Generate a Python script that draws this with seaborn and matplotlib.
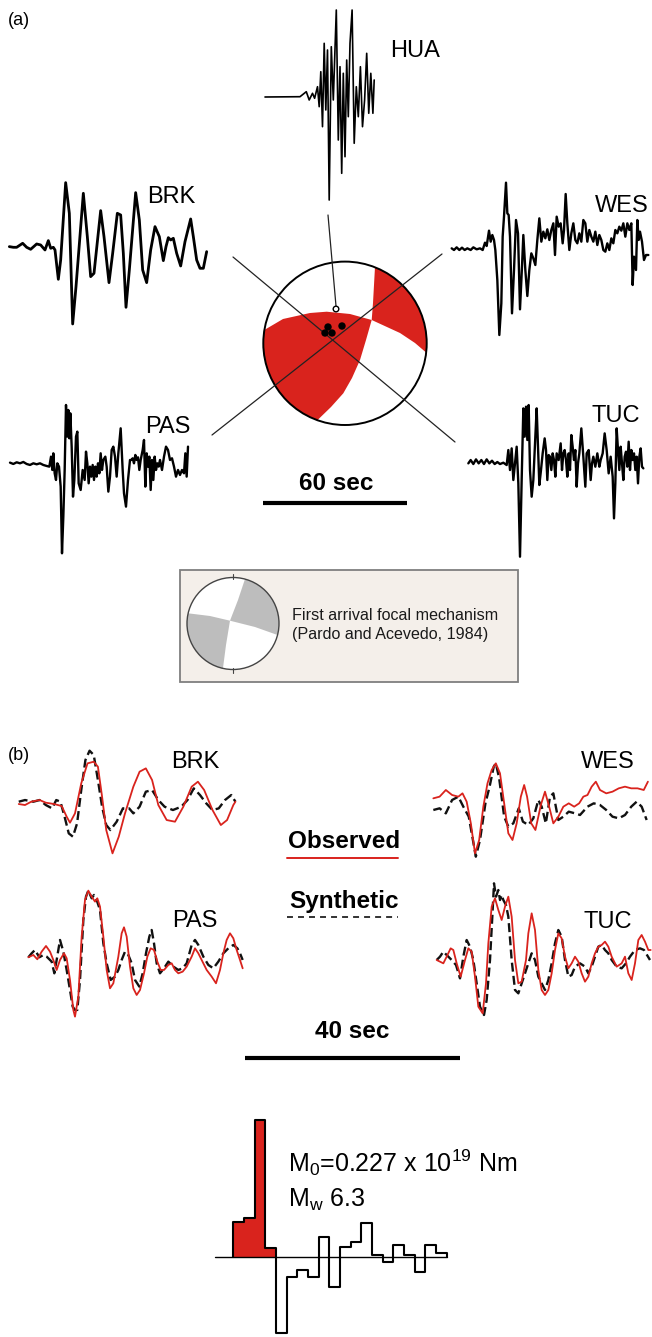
import numpy as np
import matplotlib
matplotlib.use('Agg')
import matplotlib.pyplot as plt
from matplotlib.patches import Polygon, Circle, Rectangle
import seaborn as sns

sns.set_theme(style='white')
plt.rcParams['font.family'] = ['Liberation Sans', 'DejaVu Sans']
plt.rcParams['text.color'] = 'black'
plt.rcParams['mathtext.fontset'] = 'custom'
plt.rcParams['mathtext.rm'] = 'Liberation Sans'
plt.rcParams['mathtext.it'] = 'Liberation Sans'
plt.rcParams['mathtext.default'] = 'regular'

RED = '#d9231d'

# ---------------- data: (a) observed long-period records ----------------
hua_t = [0, 35, 41.3, 44.2, 47.5, 49.6, 52.5, 54.2, 55.8, 57.5, 59.2, 60.8, 62.5, 64.2, 66.3, 68.3,
         71.3, 73.3, 75, 76.7, 78.3, 80, 81.7, 83.3, 85, 87.1, 89.2, 91.3, 93.3, 95.4, 97.5, 99.6,
         101.7, 103.75, 105.8, 107.9, 109.2]
hua_a = [0, 0.3, 5.3, -3, 3.7, -1.3, 10.3, -9.7, 25.3, -29.7, 53.7, -13, 47, -103, 50.3, -3,
         87, -43, 30.3, -76.3, 23.7, -59.7, 37, -19.7, 53.7, 87, -46.3, 10.3, -19.7, 30.3, -29.7, -3,
         43.7, -16.3, 23.7, -16.3, 17]

brk_t = [28, 40, 50, 68, 80, 92, 110, 122, 135, 145, 152, 160, 165, 175, 182, 197, 208, 218, 228, 250,
         262, 272, 282, 302, 312, 327, 338, 352, 362, 370, 378, 388, 407, 418, 428, 440, 452, 465, 478, 490,
         498, 505, 512, 520, 530, 542, 555, 572, 580, 590, 600, 610, 620]
brk_a = [2, 0, 0, 12, 0, -6, 10, 7, -8, 20, -3, 0, -8, -96, -38, 194, 102, -230, -118, 162,
         32, -88, -78, 110, 32, -106, -18, 102, 97, -18, -180, -68, 164, 82, -68, -106, -8, 62, 32, -40,
         2, 29, 22, 27, -18, -56, 17, 85, 32, -38, -63, -63, -13]

wes_t = [35, 42, 50, 58, 66, 74, 82, 92, 100, 110, 120, 128, 135, 140, 147, 152, 157, 162, 166, 172,
         178, 184, 188, 192, 198, 202, 206, 210, 216, 222, 228, 234, 240, 246, 250, 256, 262, 268, 274, 280,
         286, 292, 298, 304, 310, 316, 322, 328, 334, 340, 345, 350, 356, 362, 368, 372, 377, 382, 388, 394,
         400, 406, 412, 418, 424, 430, 436, 442, 448, 454, 460, 466, 472, 478, 484, 490, 496, 502, 508, 514,
         520, 526, 532, 538, 544, 550, 556, 562, 568, 574, 578, 582, 588, 592, 596, 600, 606, 612, 618, 625]
wes_a = [2, -3, 5, -3, 4, -3, 2, -3, 5, -1, 2, -3, 19, 9, 55, 22, 42, 27, -3, -93,
         -258, -163, 37, 97, 199, 107, 102, 37, -193, -63, 87, 47, -181, -53, 42, -63, -141, -63, -13, -28,
         -48, 27, 92, 22, 52, 32, 59, 27, 57, 77, -18, 97, 67, 77, 17, 57, 165, 77, -3, 47,
         77, 27, 17, 47, 22, 87, 77, 22, 57, 37, 22, 52, 12, 42, 27, -3, -8, 17, -3, 32,
         17, 57, 47, 67, 55, 77, 37, 77, 57, 77, -108, -23, -63, 87, 27, 52, 22, -33, -18, -18]

pas_t = [30, 40, 50, 60, 70, 80, 90, 100, 110, 120, 130, 140, 148, 153, 157, 160, 164, 168, 172, 177,
         182, 186, 190, 194, 198, 202, 205, 208, 211, 215, 219, 223, 228, 232, 236, 242, 248, 254, 258, 262,
         266, 270, 274, 278, 282, 286, 290, 294, 298, 302, 306, 310, 316, 320, 325, 330, 335, 340, 345, 350,
         355, 362, 368, 372, 378, 384, 390, 394, 398, 402, 406, 410, 414, 418, 422, 428, 432, 436, 440, 444,
         448, 452, 456, 460, 464, 468, 472, 476, 480, 486, 492, 498, 504, 510, 516, 522, 528, 534, 540, 546,
         552, 556, 560, 564]
pas_a = [2, -2, 3, 0, 4, -2, -5, 0, -3, 0, -5, -8, -10, 20, -20, 30, -30, -50, 0, -10,
         -70, -270, -160, -20, 175, 80, 160, 75, 150, 50, -100, -50, 80, 95, -60, -80, -20, -50, 35, 0,
         -60, -10, -40, -5, -50, -10, -40, 0, -30, 30, -20, 10, 20, -10, -85, -40, 40, 50, 20, -40,
         30, 105, -20, -90, -130, -50, 10, 10, 15, 0, 25, 10, 18, -20, 10, 40, 70, -70, 30, -10,
         20, -80, 10, -50, 20, -20, 0, -10, 10, -20, 20, 50, 40, 10, 15, -10, -40, -20, -35, -20,
         -30, 30, -40, 50]

tuc_t = [85, 92, 100, 108, 116, 124, 132, 140, 148, 156, 164, 172, 180, 190, 200, 205, 210, 215, 220, 225,
         230, 235, 240, 245, 250, 254, 258, 262, 266, 270, 275, 280, 286, 290, 294, 298, 303, 308, 314, 318,
         322, 326, 330, 334, 338, 342, 346, 350, 356, 362, 366, 370, 374, 378, 382, 386, 390, 394, 398, 402,
         406, 410, 414, 418, 424, 430, 436, 440, 446, 452, 456, 460, 466, 472, 478, 482, 488, 494, 500, 506,
         512, 518, 522, 526, 530, 534, 538, 542, 546, 550, 554, 558, 562, 566, 570, 574, 578, 582, 586, 590,
         594, 598, 602, 606, 610]
tuc_a = [-2, 8, -4, 10, -2, 8, -4, 10, -2, 6, -4, 2, -4, 0, -7, 38, -22, 43, -52, -2,
         48, -62, -282, -52, 163, 78, 168, 68, 173, -22, -102, -52, 78, 163, 48, -67, -22, 28, 73, 38,
         -52, 23, 18, -22, 28, 8, -42, 28, 8, 58, -22, 28, 38, 8, -42, 28, -22, 83, 48, 8,
         38, -72, -2, 28, 103, 18, -72, 28, 38, -52, -2, 18, -12, 28, -12, 8, 28, 88, 38, -32,
         18, -42, -167, -62, 103, 38, -22, 48, -2, -52, 18, 33, -12, 63, -22, 38, 8, 28, -22, 18,
         -62, 18, 43, -12, -17]

# ---------------- data: (b) observed (red) vs synthetic (dashed) ----------------
brk_obs_t = [45, 60, 75, 95, 110, 130, 148, 160, 168, 180, 195, 210, 225, 235, 245, 255, 270, 285, 300, 320,
             335, 350, 365, 380, 400, 420, 440, 460, 475, 490, 510, 530, 545, 560, 565]
brk_obs_a = [-7, -10, 0, 5, -3, -7, -13, -45, -63, -35, 55, 115, 120, 105, 15, -85, -155, -105, -35, 45,
             90, 100, 65, -10, -55, -60, -15, 45, 60, 35, -25, -70, -55, -10, 0]
brk_syn_t = [45, 60, 80, 95, 110, 125, 135, 145, 155, 165, 175, 185, 195, 205, 215, 225, 235, 245, 255, 265,
             280, 295, 310, 320, 335, 350, 365, 380, 395, 415, 435, 450, 465, 480, 495, 510, 525, 540, 555, 565]
brk_syn_a = [0, 5, 0, 5, -10, -20, 5, 0, -45, -95, -105, -65, 35, 125, 153, 140, 65, -15, -70, -85,
             -60, -20, -20, -35, -15, 30, 35, 5, -15, -25, -15, 5, 40, 20, -5, -25, -20, 5, 20, 0]

wes_obs_t = [1040, 1055, 1070, 1085, 1100, 1110, 1120, 1130, 1140, 1150, 1160, 1170, 1180, 1190, 1200, 1210,
             1220, 1230, 1240, 1250, 1258, 1265, 1275, 1285, 1292, 1298, 1308, 1318, 1328, 1340, 1352, 1365,
             1378, 1390, 1400, 1410, 1420, 1430, 1440, 1455, 1470, 1485, 1500, 1515, 1530, 1545, 1555]
wes_obs_a = [35, 40, 60, 45, 40, 50, 25, -40, -130, -90, 10, 80, 120, 140, 110, 20,
             -70, -90, -40, 40, 75, 40, -40, -60, -20, 15, 55, 10, -40, -20, 10, 20,
             10, 20, 40, 45, 70, 85, 60, 50, 55, 65, 70, 65, 65, 60, 85]
wes_syn_t = [1040, 1055, 1070, 1085, 1100, 1112, 1125, 1135, 1142, 1152, 1165, 1175, 1185, 1190, 1198, 1210,
             1220, 1232, 1245, 1255, 1268, 1280, 1292, 1300, 1310, 1320, 1328, 1340, 1352, 1365, 1380, 1392,
             1410, 1425, 1440, 1455, 1470, 1485, 1500, 1515, 1528, 1540, 1552]
wes_syn_a = [0, 5, -10, 30, 40, 10, -20, -90, -140, -90, 20, 70, 130, 140, 95, -20,
             -50, -40, 5, -35, -45, -25, 30, 10, -40, 40, 50, -30, -20, -5, -10, -15,
             10, 20, 15, 0, -20, -25, -15, 10, 25, 10, -30]

pas_obs_t = [85, 100, 112, 125, 138, 150, 160, 170, 180, 192, 200, 210, 220, 225, 235, 245, 255, 265, 275, 285,
             292, 300, 310, 320, 330, 340, 355, 365, 372, 380, 390, 400, 410, 420, 432, 442, 452, 462, 472, 482,
             492, 505, 515, 525, 535, 548, 560, 575, 585, 595, 605, 620, 635, 648, 660, 670, 680, 690, 700, 710,
             720, 728]
pas_obs_a = [0, 7, -6, 17, 34, 17, -8, -38, -8, 12, -3, -68, -158, -178, -118, 62, 172, 200, 182, 167,
             177, 152, 62, -38, -93, -78, 2, 72, 90, 62, -28, -93, -113, -98, -48, 2, 27, 22, -13, -38,
             -38, -23, -18, -38, -48, -43, -28, 2, 27, 12, -8, -38, -58, -78, -38, 12, 52, 72, 57, 22,
             -8, -33]
pas_syn_t = [85, 95, 105, 118, 130, 140, 155, 163, 170, 180, 190, 200, 210, 218, 225, 232, 240, 250, 258, 265,
             275, 282, 290, 300, 310, 320, 332, 345, 355, 365, 375, 385, 395, 405, 418, 428, 438, 448, 455, 462,
             470, 480, 492, 505, 520, 535, 548, 560, 575, 585, 595, 610, 625, 640, 655, 670, 685, 700, 712, 720,
             728]
pas_syn_a = [0, 12, 22, 0, 7, 2, -13, -48, -8, 52, 17, -38, -98, -148, -158, -158, -68, 112, 182, 200,
             177, 187, 172, 142, 42, -18, -68, -58, -38, -8, 17, 7, -18, -68, -88, -48, 12, 62, 82, 42,
             -18, -48, -33, -13, -28, -38, -33, -18, 37, 52, 37, 2, -23, -33, -13, 12, 27, 37, 27, 12,
             -8]

tuc_obs_t = [50, 60, 70, 80, 92, 100, 110, 122, 135, 145, 155, 165, 175, 188, 198, 205, 215, 225, 235, 245,
             255, 265, 275, 285, 295, 305, 318, 325, 335, 345, 355, 365, 375, 385, 395, 405, 415, 425, 435, 445,
             455, 465, 475, 485, 495, 505, 515, 525, 535, 545, 555, 565, 575, 590, 605, 615, 625, 635, 645, 655,
             665, 675, 685, 692]
tuc_obs_a = [0, -5, -10, 10, 35, 30, -10, -50, 0, 35, 25, -50, -140, -160, -70, 50, 160, 185, 150, 120,
             160, 190, 130, 0, -70, -65, 0, 80, 140, 90, -30, -90, -105, -90, -40, 30, 80, 65, 10, -25,
             -10, 10, -5, -40, -65, -50, -10, 20, 40, 45, 55, 40, 10, -20, -10, 10, -40, -60, -10, 60,
             75, 55, 30, 30]
tuc_syn_t = [50, 60, 70, 85, 95, 108, 120, 130, 140, 150, 160, 170, 180, 192, 200, 210, 218, 222, 228, 235,
             240, 245, 250, 258, 265, 275, 285, 295, 305, 315, 325, 335, 345, 355, 365, 375, 385, 395, 405, 415,
             425, 435, 445, 455, 465, 480, 495, 505, 515, 525, 535, 545, 555, 565, 575, 590, 605, 618, 630, 645,
             660, 672, 690]
tuc_syn_a = [0, 10, 25, 10, 0, -15, -55, 10, 60, 40, 0, -70, -140, -165, -120, 0, 150, 230, 190, 210,
             180, 195, 180, 165, 130, 0, -90, -100, -70, -40, -10, 20, 0, -50, -70, -90, -60, -10, 50, 90,
             70, 0, -50, -45, -20, -10, -20, -40, -20, 10, 40, 45, 30, 20, 0, -20, -25, -10, 10, 30,
             35, 30, 0]

# source time function (moment-rate steps)
stf_vals = [105, 115, 410, 25, -230, -60, -40, -60, 60, -90, 30, 45, 100, 5, -15, 35, 5, -45, 35, 10]

# ---------------- layout (origin x, origin y, x-scale, y-scale) ----------------
POS = {
    'HUA': (265, 97, 1, 1),
    'BRK': (0, 247.3, 1 / 3, 1 / 3),
    'WES': (440, 249, 1 / 3, 1 / 3),
    'PAS': (0, 463.3, 1 / 3, 1 / 3),
    'TUC': (440, 462.7, 1 / 3, 1 / 3),
    'BRKb': (0, 801.7, 1 / 2.4, 1 / 3),
    'WESb': (0, 810, 1 / 2.4, 1 / 3),
    'PASb': (0, 957.3, 1 / 3, 1 / 3),
    'TUCb': (420, 960, 1 / 3, 1 / 3),
}

W, H = 652, 1337
fig = plt.figure(figsize=(W / 100, H / 100), dpi=100)
ax = fig.add_axes([0, 0, 1, 1])


def trace(t, a, key, color='black', lw=1.6, dash=None, z=3):
    x0, y0, sx, sy = POS[key]
    X = x0 + np.asarray(t, float) * sx
    Y = y0 - np.asarray(a, float) * sy
    n0 = len(ax.lines)
    sns.lineplot(x=X, y=Y, sort=False, estimator=None, color=color, linewidth=lw, ax=ax, zorder=z)
    ln = ax.lines[n0]
    ln.set_solid_joinstyle('round')
    if dash is not None:
        ln.set_linestyle((0, dash))
        ln.set_dash_capstyle('butt')


# (a) records
trace(hua_t, hua_a, 'HUA', lw=1.2)
trace(brk_t, brk_a, 'BRK', lw=2.0)
trace(wes_t, wes_a, 'WES', lw=1.7)
trace(pas_t, pas_a, 'PAS', lw=1.7)
trace(tuc_t, tuc_a, 'TUC', lw=1.7)

# (b) comparisons
for obs_t, obs_a, syn_t, syn_a, key in [
        (brk_obs_t, brk_obs_a, brk_syn_t, brk_syn_a, 'BRKb'),
        (wes_obs_t, wes_obs_a, wes_syn_t, wes_syn_a, 'WESb'),
        (pas_obs_t, pas_obs_a, pas_syn_t, pas_syn_a, 'PASb'),
        (tuc_obs_t, tuc_obs_a, tuc_syn_t, tuc_syn_a, 'TUCb')]:
    trace(syn_t, syn_a, key, color='#111111', lw=1.7, dash=(3.8, 1.8), z=3)
    trace(obs_t, obs_a, key, color=RED, lw=1.3, z=4)

# ---------------- focal mechanism (a) ----------------
def ang(cx, cy, p):
    return np.degrees(np.arctan2(-(p[1] - cy), p[0] - cx))


def arc(cx, cy, r, a0, a1, n=60):
    th = np.radians(np.linspace(a0, a1, n))
    return np.column_stack([cx + r * np.cos(th), cy - r * np.sin(th)])


cx, cy, R = 345, 343.3, 81.7
c1_up = np.array([(375, 267), (374, 285), (373, 303), (371.7, 320)])
c1_low = np.array([(371.7, 320), (366, 340), (360, 360), (352, 378), (343.3, 393.3), (331, 407), (318.3, 419.3)])
c2_left = np.array([(264.3, 330), (283, 319), (310, 313), (326.7, 311.7), (350, 314), (371.7, 320)])
c2_right = np.array([(371.7, 320), (400, 333), (415, 343), (426.7, 353)])

a_s = ang(cx, cy, c1_low[-1]) % 360
a_e = ang(cx, cy, c2_left[0]) % 360
poly_left = np.vstack([c2_left, c1_low[1:], arc(cx, cy, R, a_s, a_e)])
ax.add_patch(Polygon(poly_left, closed=True, facecolor=RED, edgecolor='none', zorder=2))
a_s = ang(cx, cy, c2_right[-1])
a_e = ang(cx, cy, c1_up[0])
poly_right = np.vstack([c1_up, c2_right[1:], arc(cx, cy, R, a_s, a_e)])
ax.add_patch(Polygon(poly_right, closed=True, facecolor=RED, edgecolor='none', zorder=2))
ax.add_patch(Circle((cx, cy), R, facecolor='none', edgecolor='black', lw=1.4, zorder=5))

# station rays
for (xa, ya), (xb, yb) in [((233, 257), (455, 442)), ((212, 435), (442, 254)), ((328, 215), (336, 306))]:
    ax.plot([xa, xb], [ya, yb], color='#222222', lw=0.9, zorder=5)
for p in [(328, 327), (325, 333), (332, 333), (342, 326)]:
    ax.add_patch(Circle(p, 3.0, facecolor='black', edgecolor='black', zorder=6))
ax.add_patch(Circle((336, 309), 2.8, facecolor='white', edgecolor='black', lw=1.0, zorder=6))

# 60 s bar
ax.plot([263, 407], [503, 503], color='black', lw=3, solid_capstyle='butt')
ax.text(336, 490, '60 sec', fontsize=17.5, fontweight='bold', ha='center', va='baseline')

# ---------------- legend box with first-arrival mechanism ----------------
ax.add_patch(Rectangle((180, 570), 338, 112, facecolor='#f4efea', edgecolor='#7f7f7f', lw=1.3, zorder=1))
scx, scy, sr = 233, 623.5, 46
ax.add_patch(Circle((scx, scy), sr, facecolor='white', edgecolor='none', zorder=2))
A = np.array([(245, 579), (238, 600), (230, 620.7), (226, 645), (223, 668)])
B = np.array([(188.1, 613.3), (210, 616), (230, 620.7), (255, 627), (277.5, 635)])
g1 = np.vstack([A[:3], B[3:], arc(scx, scy, sr, ang(scx, scy, B[-1]), ang(scx, scy, A[0]))])
g2 = np.vstack([B[:3], A[3:], arc(scx, scy, sr, ang(scx, scy, A[-1]) % 360, ang(scx, scy, B[0]) % 360)])
for g in (g1, g2):
    ax.add_patch(Polygon(g, closed=True, facecolor='#bdbdbd', edgecolor='none', zorder=3))
ax.add_patch(Circle((scx, scy), sr, facecolor='none', edgecolor='#444444', lw=1.0, zorder=4))
ax.plot([scx, scx], [574, 579], color='#444444', lw=0.8, zorder=4)
ax.plot([scx, scx], [668, 673], color='#444444', lw=0.8, zorder=4)
ax.text(292, 620, 'First arrival focal mechanism', fontsize=11.6, ha='left', va='baseline', color='#1a1a1a')
ax.text(292, 639, '(Pardo and Acevedo, 1984)', fontsize=11.6, ha='left', va='baseline', color='#1a1a1a')

# ---------------- labels ----------------
ax.text(8, 25, '(a)', fontsize=13, ha='left', va='baseline')
ax.text(8, 760, '(b)', fontsize=13, ha='left', va='baseline')
st_fs = 17
for name, x, y in [('HUA', 390, 57), ('BRK', 147, 203), ('WES', 595, 212), ('PAS', 145, 433),
                   ('TUC', 592, 422), ('BRK', 171, 768), ('WES', 581, 768), ('PAS', 172, 927),
                   ('TUC', 583, 928)]:
    ax.text(x, y, name, fontsize=st_fs, ha='left', va='baseline')

ax.text(344, 848, 'Observed', fontsize=17.5, fontweight='bold', ha='center', va='baseline')
ax.plot([287, 398], [858, 858], color=RED, lw=1.4)
ax.text(344, 908, 'Synthetic', fontsize=17.5, fontweight='bold', ha='center', va='baseline')
ln, = ax.plot([287, 398], [917, 917], color='#222222', lw=1.3)
ln.set_linestyle((0, (3.3, 2.8)))

ax.plot([245, 460], [1058, 1058], color='black', lw=3, solid_capstyle='butt')
ax.text(352, 1038, '40 sec', fontsize=17.5, fontweight='bold', ha='center', va='baseline')

# ---------------- source time function ----------------
sx0, sw, sbase, ssc = 233.3, 32 / 3, 1256.7, 1 / 3
edges = sx0 + sw * np.arange(len(stf_vals) + 1)
vals = np.asarray(stf_vals, float)
ax.plot([215, 447], [sbase, sbase], color='black', lw=1.0, zorder=3)
xs = np.concatenate([[edges[0]], edges[:-1], [edges[-1]], [edges[-1]]])
ys = np.concatenate([[0], vals, [vals[-1]], [0]])
sns.lineplot(x=xs, y=sbase - ys * ssc, sort=False, estimator=None, color='black', linewidth=1.5,
             drawstyle='steps-post', ax=ax, zorder=4)
ax.fill_between(edges[:5], sbase - np.append(vals[:4], vals[3]) * ssc, sbase, step='post',
                facecolor=RED, edgecolor='none', zorder=2)

ax.text(288, 1171.5, r'M$_0$=0.227 x 10$^{19}$ Nm', fontsize=18, ha='left', va='baseline')
ax.text(288, 1206.5, r'M$_w$ 6.3', fontsize=18, ha='left', va='baseline')

ax.set_xlim(0, W)
ax.set_ylim(H, 0)
ax.set_axis_off()
fig.savefig('out.png', dpi=100, facecolor='white')
